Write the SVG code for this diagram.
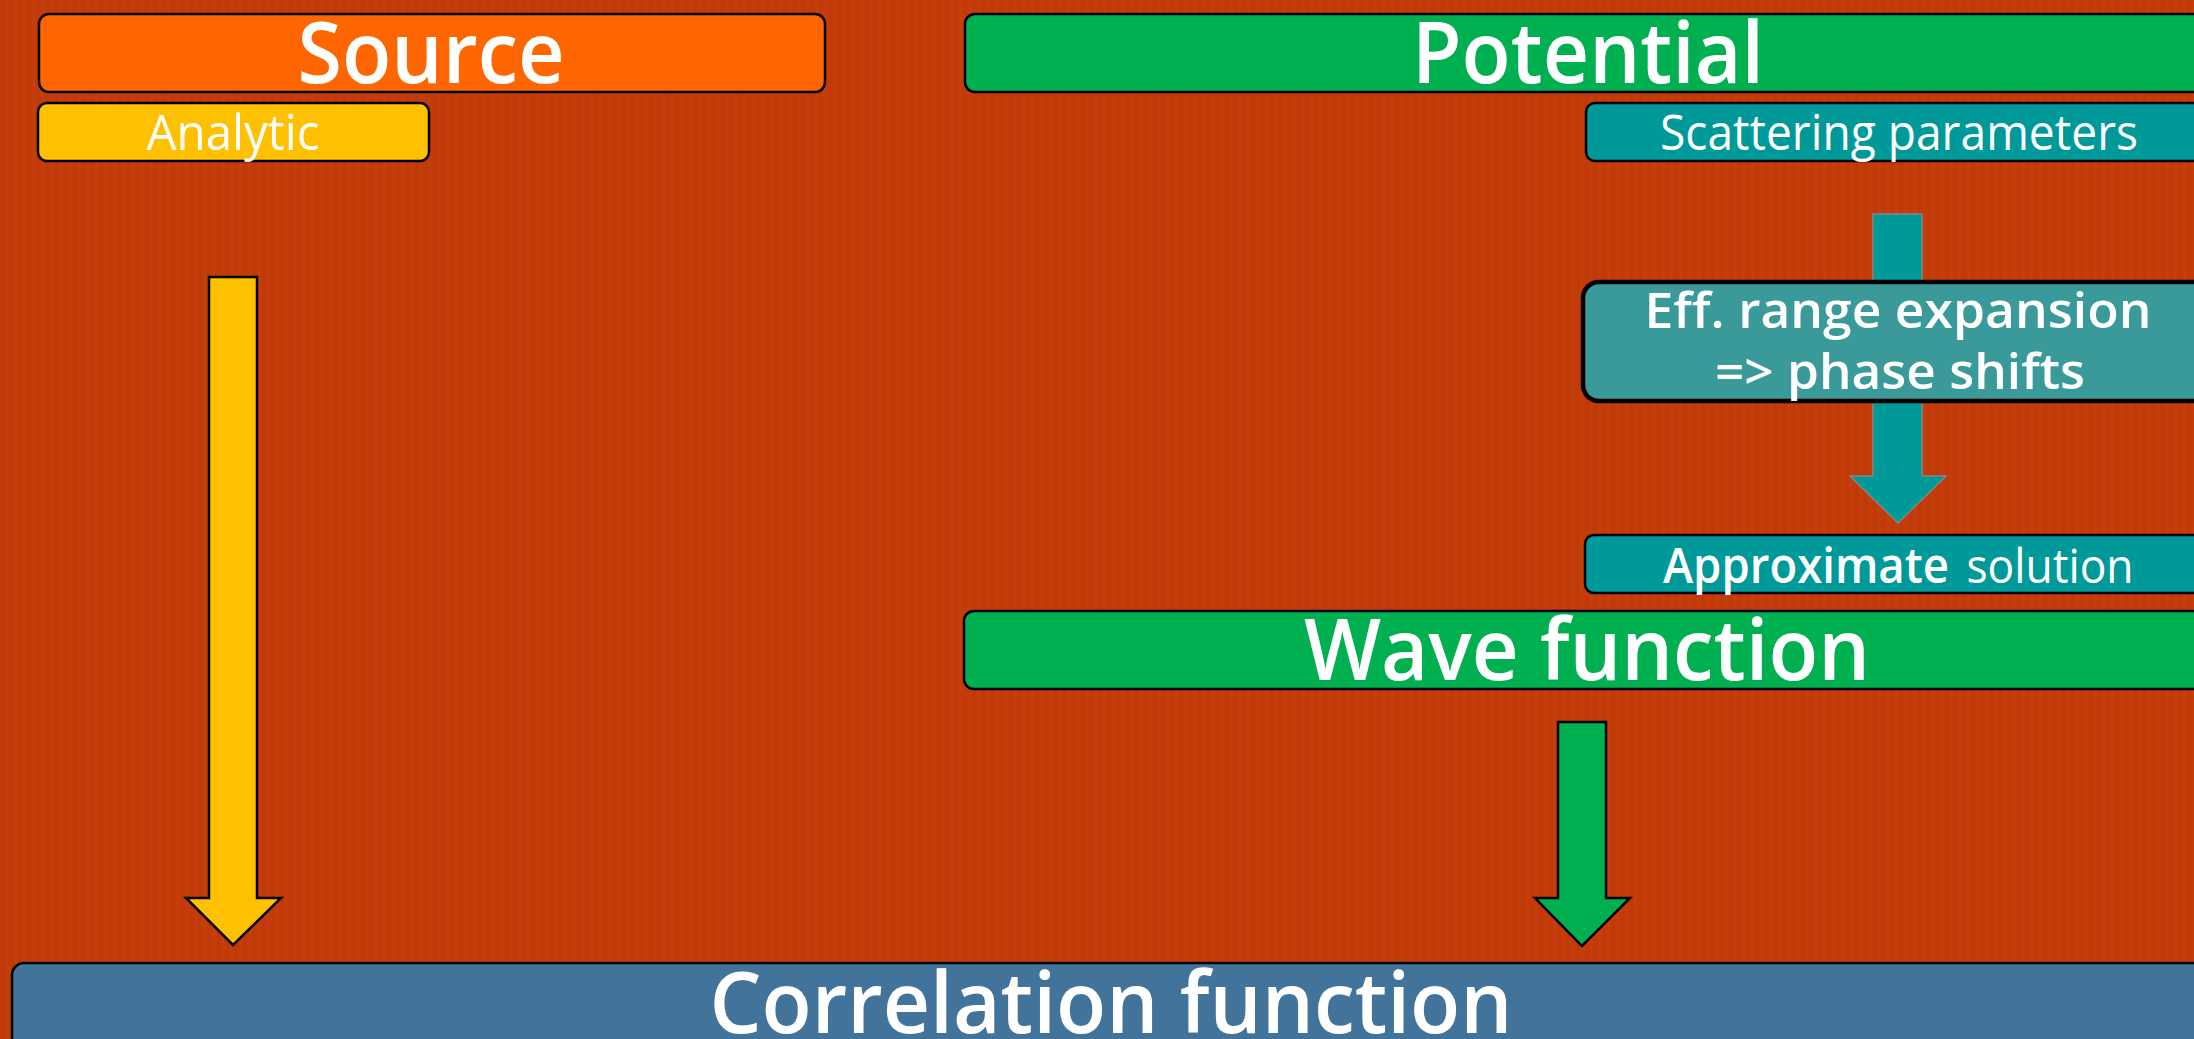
<svg xmlns="http://www.w3.org/2000/svg" width="2194" height="1039" viewBox="0 0 2194 1039">
<defs>
<pattern id="tex" width="9" height="40" patternUnits="userSpaceOnUse">
<rect width="9" height="40" fill="#c33b09"/>
<rect x="2" width="1" height="40" fill="#b93607" opacity="0.6"/>
<rect x="6" width="1.5" height="40" fill="#c9420d" opacity="0.6"/>
</pattern>
<style>
.t{font-family:"Open Sans","Liberation Sans",sans-serif;fill:#fff;text-anchor:middle}
.big{font-size:85px;font-weight:600}
.sm{font-size:49px;font-weight:400}
.smb{font-size:49px;font-weight:600}
.arr{stroke:#000;stroke-width:2.5;stroke-linejoin:miter}
</style>
</defs>
<rect width="2194" height="1039" fill="url(#tex)"/>
<g id="connectors">
<polygon id="arrow-analytic-correlation" class="arr" fill="#ffc000" points="209,277 257,277 257,898 281,898 233,945 186,898 209,898"/>
<polygon id="arrow-wave-correlation" class="arr" fill="#00b050" points="1558,722 1606,722 1606,898 1630,898 1582,946 1535,898 1558,898"/>
<polygon id="arrow-scattering-approx" fill="#009999" stroke="#7a8a8a" stroke-width="1.5" points="1873,214 1922,214 1922,476 1946,476 1898,523 1850,476 1873,476"/>
</g>
<g id="source">
<rect x="39" y="14" width="786" height="78" rx="10" fill="#ff6600" stroke="#000" stroke-width="2.5"/>
<text class="t big" x="431" y="83" textLength="267" lengthAdjust="spacingAndGlyphs">Source</text>
</g>
<g id="analytic">
<rect x="38" y="103" width="391" height="58" rx="9" fill="#ffc000" stroke="#000" stroke-width="2.5"/>
<text class="t sm" x="233" y="150" textLength="173" lengthAdjust="spacingAndGlyphs">Analytic</text>
</g>
<g id="potential">
<rect x="965" y="14" width="1246" height="78" rx="10" fill="#00b050" stroke="#000" stroke-width="2.5"/>
<text class="t big" x="1588" y="83" textLength="352" lengthAdjust="spacingAndGlyphs">Potential</text>
</g>
<g id="scattering">
<rect x="1586" y="103" width="626" height="58" rx="9" fill="#009999" stroke="#000" stroke-width="2.5"/>
<text class="t sm" x="1899" y="150" textLength="478" lengthAdjust="spacingAndGlyphs">Scattering parameters</text>
</g>
<g id="effrange">
<rect x="1583" y="282" width="632" height="119" rx="16" fill="#399a99" stroke="#000" stroke-width="4.5"/>
<text class="t smb" x="1898" y="328" textLength="507" lengthAdjust="spacingAndGlyphs">Eff. range expansion</text>
<text class="t smb" x="1900" y="389" textLength="370" lengthAdjust="spacingAndGlyphs">=&gt; phase shifts</text>
</g>
<g id="approximate">
<rect x="1585" y="535" width="627" height="58" rx="9" fill="#009999" stroke="#000" stroke-width="2.5"/>
<text class="t" x="1806" y="583" style="font-size:48px;font-weight:600" textLength="286" lengthAdjust="spacingAndGlyphs">Approximate</text>
<text class="t" x="2050" y="583" style="font-size:48px;font-weight:400" textLength="167" lengthAdjust="spacingAndGlyphs">solution</text>
</g>
<g id="wavefunction">
<rect x="964" y="611" width="1247" height="78" rx="10" fill="#00b050" stroke="#000" stroke-width="2.5"/>
<text class="t big" x="1587" y="680" textLength="566" lengthAdjust="spacingAndGlyphs">Wave function</text>
</g>
<g id="correlation">
<rect x="12" y="963" width="2199" height="100" rx="12" fill="#41739b" stroke="#000" stroke-width="2.5"/>
<text class="t big" x="1111" y="1033" textLength="803" lengthAdjust="spacingAndGlyphs">Correlation function</text>
</g>
</svg>
